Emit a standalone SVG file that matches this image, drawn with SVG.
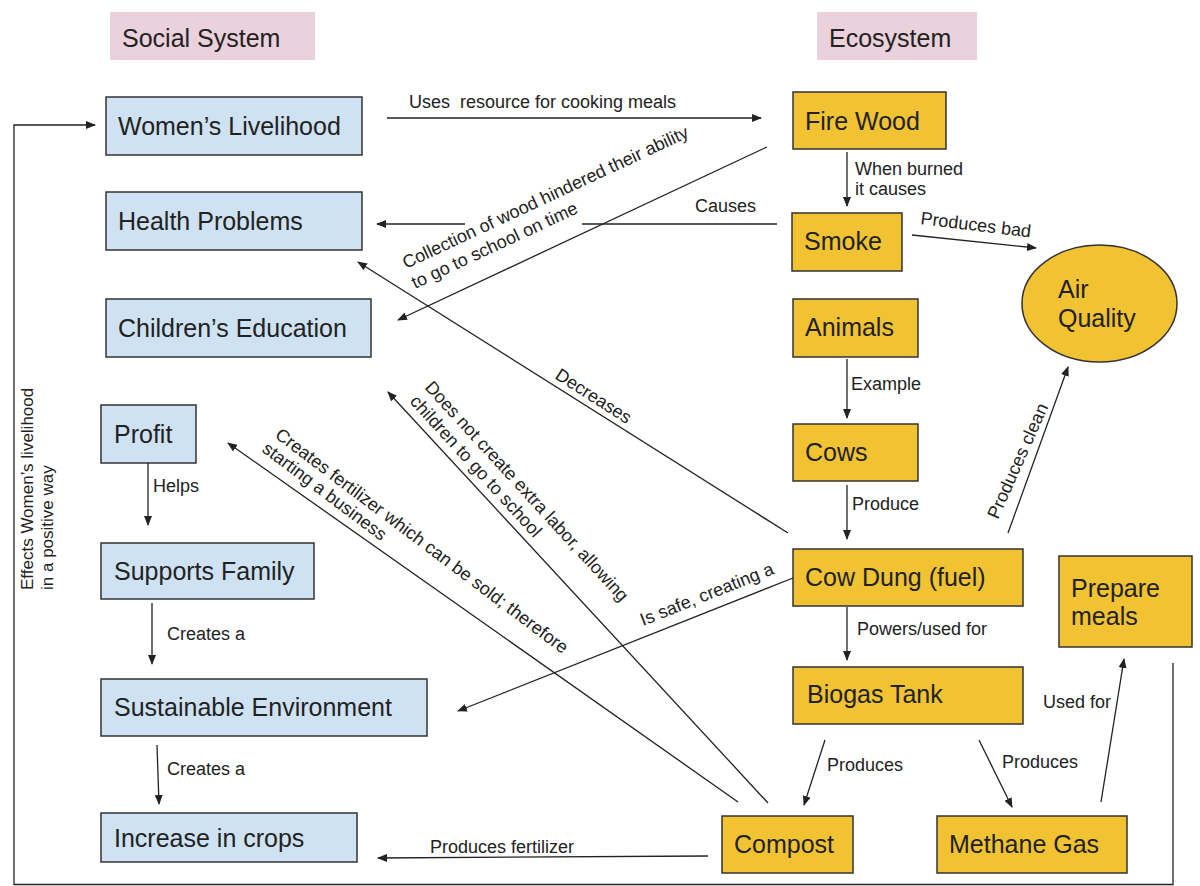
<svg xmlns="http://www.w3.org/2000/svg" width="1200" height="886" viewBox="0 0 1200 886">
<defs>
<marker id="arr" markerUnits="userSpaceOnUse" markerWidth="10" markerHeight="8" refX="9" refY="4" orient="auto">
<path d="M0,0 L10,4 L0,8 z" fill="#222"/>
</marker>
<style>
text{font-family:"Liberation Sans",Arial,sans-serif;fill:#222;white-space:pre}
.hdr{fill:#ead1dc}
.soc{fill:#cfe2f3;stroke:#333;stroke-width:1.5}
.eco{fill:#f1c232;stroke:#333;stroke-width:1.5}
.t{font-size:25px}
.l{font-size:18px}
.v{font-size:17px}
.c{fill:none;stroke:#222;stroke-width:1.3}
.a{marker-end:url(#arr)}
</style>
</defs>
<rect width="1200" height="886" fill="#fff"/>

<g id="hdr-social"><rect class="hdr" x="110" y="12" width="205" height="48"/><text class="t" x="122" y="47">Social System</text></g>
<g id="hdr-eco"><rect class="hdr" x="817" y="12" width="160" height="48"/><text class="t" x="829" y="47">Ecosystem</text></g>

<g id="womens-livelihood"><rect class="soc" x="106" y="97" width="256" height="58"/><text class="t" x="118" y="135">Women’s Livelihood</text></g>
<g id="health-problems"><rect class="soc" x="106" y="192" width="256" height="58"/><text class="t" x="118" y="230">Health Problems</text></g>
<g id="childrens-education"><rect class="soc" x="106" y="299" width="265" height="58"/><text class="t" x="118" y="337">Children’s Education</text></g>
<g id="profit"><rect class="soc" x="101" y="405" width="95" height="58"/><text class="t" x="114" y="443">Profit</text></g>
<g id="supports-family"><rect class="soc" x="101" y="543" width="213" height="56"/><text class="t" x="114" y="580">Supports Family</text></g>
<g id="sustainable-environment"><rect class="soc" x="101" y="679" width="326" height="57"/><text class="t" x="114" y="716">Sustainable Environment</text></g>
<g id="increase-crops"><rect class="soc" x="101" y="813" width="256" height="49"/><text class="t" x="114" y="847">Increase in crops</text></g>

<g id="fire-wood"><rect class="eco" x="793" y="92" width="153" height="57"/><text class="t" x="805" y="130">Fire Wood</text></g>
<g id="smoke"><rect class="eco" x="792" y="213" width="110" height="58"/><text class="t" x="804" y="250">Smoke</text></g>
<g id="air-quality"><ellipse cx="1099.5" cy="303.5" rx="77.5" ry="58.5" fill="#f1c232" stroke="#333" stroke-width="1.5"/><text class="t" x="1058" y="298">Air</text><text class="t" x="1058" y="327">Quality</text></g>
<g id="animals"><rect class="eco" x="793" y="299" width="125" height="58"/><text class="t" x="805" y="336">Animals</text></g>
<g id="cows"><rect class="eco" x="793" y="424" width="125" height="57"/><text class="t" x="805" y="461">Cows</text></g>
<g id="cow-dung"><rect class="eco" x="793" y="549" width="230" height="57"/><text class="t" x="805" y="586">Cow Dung (fuel)</text></g>
<g id="prepare-meals"><rect class="eco" x="1059" y="556" width="133" height="91"/><text class="t" x="1071" y="597">Prepare</text><text class="t" x="1071" y="625">meals</text></g>
<g id="biogas-tank"><rect class="eco" x="793" y="667" width="230" height="57"/><text class="t" x="807" y="703">Biogas Tank</text></g>
<g id="compost"><rect class="eco" x="722" y="816" width="131" height="57"/><text class="t" x="734" y="853">Compost</text></g>
<g id="methane-gas"><rect class="eco" x="937" y="816" width="190" height="57"/><text class="t" x="949" y="853">Methane Gas</text></g>

<g id="connectors">
<line class="c a" x1="387" y1="118" x2="761" y2="118"/>
<line class="c a" x1="847" y1="152" x2="847" y2="206"/>
<line class="c" x1="777" y1="224" x2="582" y2="224"/>
<line class="c a" x1="465" y1="224" x2="377" y2="224"/>
<line class="c a" x1="767" y1="147" x2="398" y2="320"/>
<line class="c a" x1="912" y1="235" x2="1036" y2="248"/>
<line class="c a" x1="847" y1="359" x2="847" y2="418"/>
<line class="c a" x1="847" y1="485" x2="847" y2="539"/>
<line class="c a" x1="1008" y1="533" x2="1068" y2="367"/>
<line class="c a" x1="847" y1="607" x2="847" y2="660"/>
<line class="c a" x1="788" y1="533" x2="358" y2="262"/>
<line class="c a" x1="793" y1="578" x2="458" y2="711"/>
<line class="c a" x1="768" y1="803" x2="388" y2="392"/>
<line class="c a" x1="738" y1="802" x2="228" y2="443"/>
<line class="c a" x1="825" y1="740" x2="804" y2="805"/>
<line class="c a" x1="979" y1="740" x2="1012" y2="807"/>
<line class="c a" x1="1101" y1="802" x2="1124" y2="659"/>
<line class="c a" x1="708" y1="856" x2="378" y2="858"/>
<line class="c a" x1="148" y1="463" x2="148" y2="525"/>
<line class="c a" x1="152" y1="603" x2="152" y2="664"/>
<line class="c a" x1="157" y1="745" x2="159" y2="804"/>
<polyline class="c a" points="1173,663 1173,884.5 14,884.5 14,125 95,125"/>

<text class="l" x="409" y="108" xml:space="preserve">Uses  resource for cooking meals</text>
<text class="l" x="855" y="175">When burned</text>
<text class="l" x="855" y="195">it causes</text>
<text class="l" x="695" y="212">Causes</text>
<text class="l" transform="translate(406,269) rotate(-25)">Collection of wood hindered their ability</text>
<text class="l" transform="translate(415,289) rotate(-25)">to go to school on time</text>
<text class="l" transform="translate(920,224) rotate(7)">Produces bad</text>
<text class="l" x="851" y="390">Example</text>
<text class="l" x="852" y="510">Produce</text>
<text class="l" transform="translate(998,520) rotate(-66)">Produces clean</text>
<text class="l" x="857" y="635">Powers/used for</text>
<text class="l" transform="translate(554,378) rotate(32.5)">Decreases</text>
<text class="l" transform="translate(424,388) rotate(47.5)">Does not create extra labor, allowing</text>
<text class="l" transform="translate(409,402) rotate(47.5)">children to go to school</text>
<text class="l" transform="translate(274,437) rotate(37)">Creates fertilizer which can be sold; therefore</text>
<text class="l" transform="translate(261,451) rotate(37)">starting a business</text>
<text class="l" transform="translate(643,626) rotate(-21.7)">Is safe, creating a</text>
<text class="l" x="827" y="771">Produces</text>
<text class="l" x="1002" y="768">Produces</text>
<text class="l" x="1043" y="708">Used for</text>
<text class="l" x="430" y="853">Produces fertilizer</text>
<text class="l" x="153" y="492">Helps</text>
<text class="l" x="167" y="640">Creates a</text>
<text class="l" x="167" y="775">Creates a</text>
<text class="v" transform="translate(33,590) rotate(-90)">Effects Women’s livelihood</text>
<text class="v" transform="translate(53,590) rotate(-90)">in a positive way</text>
</g>
</svg>
